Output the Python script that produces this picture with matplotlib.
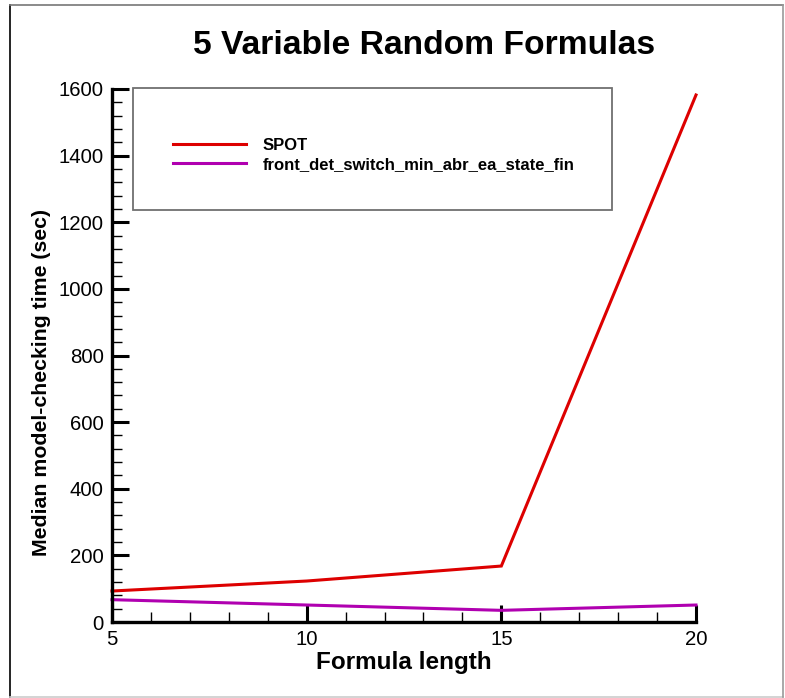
import matplotlib
matplotlib.use("Agg")
import matplotlib.pyplot as plt
from matplotlib.patches import Rectangle
from matplotlib.lines import Line2D
from matplotlib.ticker import MultipleLocator

plt.rcParams['font.family'] = ['Liberation Sans', 'DejaVu Sans']

formula_length = [5, 10, 15, 20]
spot = [93, 123, 168, 1582]
front_det = [67, 51, 35, 51]
series_names = ["SPOT", "front_det_switch_min_abr_ea_state_fin"]
series_colors = ["#dd0000", "#b000b0"]

W, H = 785, 698
fig = plt.figure(figsize=(W / 100, H / 100), dpi=100)
ax = fig.add_axes([112 / W, 1 - 622 / H, (696 - 112) / W, (622 - 89) / H])

l1, = ax.plot(formula_length, spot, color=series_colors[0], lw=2.2, label=series_names[0],
              solid_joinstyle='miter', clip_on=False)
l2, = ax.plot(formula_length, front_det, color=series_colors[1], lw=2.2, label=series_names[1],
              clip_on=False)

ax.set_xlim(5, 20)
ax.set_ylim(0, 1600)
ax.xaxis.set_major_locator(MultipleLocator(5))
ax.xaxis.set_minor_locator(MultipleLocator(1))
ax.yaxis.set_major_locator(MultipleLocator(200))
ax.yaxis.set_minor_locator(MultipleLocator(40))

for s in ['top', 'right']:
    ax.spines[s].set_visible(False)
for s in ['left', 'bottom']:
    ax.spines[s].set_linewidth(2.4)
    ax.spines[s].set_color('black')

ax.tick_params(which='major', direction='in', length=12, width=2.2, labelsize=14.7, pad=6)
ax.tick_params(which='minor', direction='in', length=7, width=1.0)

fig.text(424 / W, 1 - 45 / H, "5 Variable Random Formulas", fontsize=24.2, fontweight='bold',
         ha='center', va='center')
ax.set_xlabel("Formula length", fontsize=17.5, fontweight='bold', labelpad=1)
fig.text(42 / W, 1 - 383 / H, "Median model-checking time (sec)", fontsize=15.3,
         fontweight='bold', rotation=90, ha='center', va='center')

# legend box
fig.patches.append(Rectangle((133 / W, 1 - 210 / H), (612 - 133) / W, (210 - 88) / H,
                             transform=fig.transFigure, fill=False, edgecolor='#707070', lw=1.3))
fig.legend(handles=[l1, l2], loc='upper left', bbox_to_anchor=(173 / W, 1 - 138 / H),
           frameon=False, prop={'weight': 'bold', 'size': 12}, handlelength=4.4,
           labelspacing=0.25, handletextpad=1.0, borderaxespad=0, borderpad=0)

# outer frame
fig.add_artist(Line2D([10 / W, 10 / W], [1 - 697 / H, 1 - 5 / H], transform=fig.transFigure,
                      color='black', lw=1.2))
fig.add_artist(Line2D([10 / W, 783 / W], [1 - 5 / H, 1 - 5 / H], transform=fig.transFigure,
                      color='#777777', lw=1.2))
fig.add_artist(Line2D([10 / W, 783 / W], [1 - 697 / H, 1 - 697 / H], transform=fig.transFigure,
                      color='#cccccc', lw=1.2))
fig.add_artist(Line2D([783 / W, 783 / W], [1 - 697 / H, 1 - 5 / H], transform=fig.transFigure,
                      color='#999999', lw=1.2))

fig.savefig("out.png", dpi=100)
